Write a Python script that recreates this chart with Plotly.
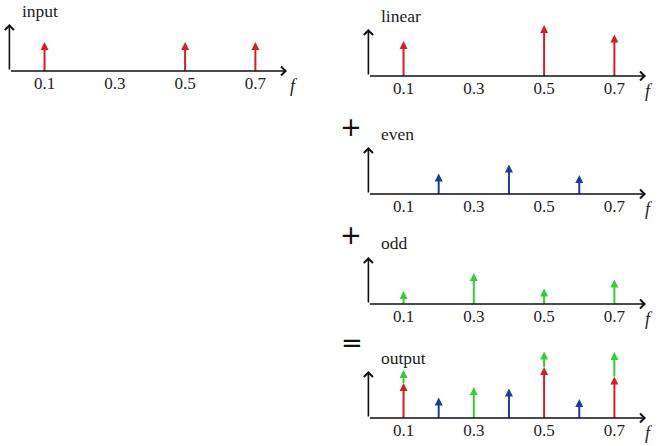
import plotly.graph_objects as go

# ---- data (frequency, amplitude) ----
tick_vals = [0.1, 0.3, 0.5, 0.7]
tick_text = ["0.1", "0.3", "0.5", "0.7"]

input_f = [0.1, 0.5, 0.7]
input_a = [2.9, 2.9, 2.9]

linear_f = [0.1, 0.5, 0.7]
linear_a = [3.5, 5.1, 4.15]

even_f = [0.2, 0.4, 0.6]
even_a = [2.05, 2.95, 1.9]

odd_f = [0.1, 0.3, 0.5, 0.7]
odd_a = [1.3, 3.1, 1.55, 2.45]

RED = "#d41f26"
BLUE = "#1a3c9c"
GREEN = "#36cc36"

SERIF = "Liberation Serif, Times New Roman, Times, serif"

W, H = 661, 446
PXU = 10.0        # pixels per amplitude unit
YMAX = 7.0        # y range of each panel
XMAX = 0.8
AXIS_TOP = 4.7
AXIS_END = 0.79

# panel: (label, left px of origin, baseline px, f-label x offset)
panels = [
    ("input", 9.4, 71, 285),
    ("linear", 368.4, 76, 281),
    ("even", 368.4, 194, 281),
    ("odd", 368.4, 304, 281),
    ("output", 368.4, 418, 281),
]
XSCALE = 351.4  # px per unit frequency

fig = go.Figure()
layout = {}

def stems(f, a, base, color, idx):
    xs, ys = [], []
    for fi, ai, bi in zip(f, a, base):
        xs += [fi, fi, None]
        ys += [bi, ai + bi - 0.35, None]
    fig.add_trace(go.Scatter(x=xs, y=ys, mode="lines",
                             line=dict(color=color, width=2),
                             xaxis=f"x{idx}", yaxis=f"y{idx}",
                             hoverinfo="skip", showlegend=False))
    fig.add_trace(go.Scatter(x=list(f), y=[ai + bi for ai, bi in zip(a, base)],
                             mode="markers",
                             marker=dict(symbol="arrow-up", size=8, color=color,
                                         line=dict(width=0)),
                             xaxis=f"x{idx}", yaxis=f"y{idx}",
                             hoverinfo="skip", showlegend=False))

annotations = []
for i, (name, x0, base_px, foff) in enumerate(panels, start=1):
    xd = [x0 / W, (x0 + XMAX * XSCALE) / W]
    yd = [1 - base_px / H, 1 - (base_px - YMAX * PXU) / H]
    sfx = "" if i == 1 else str(i)
    layout[f"xaxis{sfx}"] = dict(domain=xd, range=[0, XMAX], anchor=f"y{i}",
                                 showgrid=False, zeroline=False, showline=False,
                                 tickvals=tick_vals, ticktext=tick_text, ticks="",
                                 automargin=False,
                                 tickfont=dict(family=SERIF, size=17, color="#222"),
                                 fixedrange=True)
    layout[f"yaxis{sfx}"] = dict(domain=yd, range=[0, YMAX], anchor=f"x{i}",
                                 showgrid=False, zeroline=False, showline=False,
                                 automargin=False,
                                 showticklabels=False, fixedrange=True)
    xr, yr = f"x{i}", f"y{i}"
    # axes arrows
    annotations.append(dict(x=AXIS_END, y=0, ax=0, ay=0, xref=xr, yref=yr, axref=xr, ayref=yr,
                            text="", showarrow=True, arrowhead=4, arrowsize=1.1,
                            arrowwidth=1.6, arrowcolor="#111"))
    annotations.append(dict(x=0, y=AXIS_TOP, ax=0, ay=0, xref=xr, yref=yr, axref=xr, ayref=yr,
                            text="", showarrow=True, arrowhead=4, arrowsize=1.1,
                            arrowwidth=1.6, arrowcolor="#111"))
    # f label (paper coords: lies outside the axis range)
    annotations.append(dict(x=(x0 + foff) / W, y=1 - (base_px + 15) / H,
                            xref="paper", yref="paper", text="<i>f</i>",
                            xanchor="center", yanchor="middle", showarrow=False,
                            font=dict(family=SERIF, size=18, color="#222")))
    # panel name
    annotations.append(dict(x=0.03, y=6.05, xref=xr, yref=yr, text=name,
                            xanchor="left", yanchor="middle", showarrow=False,
                            font=dict(family=SERIF, size=17.5, color="#222")))

stems(input_f, input_a, [0] * len(input_f), RED, 1)
stems(linear_f, linear_a, [0] * len(linear_f), RED, 2)
stems(even_f, even_a, [0] * len(even_f), BLUE, 3)
stems(odd_f, odd_a, [0] * len(odd_f), GREEN, 4)

# output = linear + even + odd (odd stacked on linear at common frequencies)
lin_map = dict(zip(linear_f, linear_a))
odd_base = [lin_map.get(f, 0) for f in odd_f]
stems(linear_f, linear_a, [0] * len(linear_f), RED, 5)
stems(odd_f, odd_a, odd_base, GREEN, 5)
stems(even_f, even_a, [0] * len(even_f), BLUE, 5)

# operators between right panels
for sym, px, py in [("+", 351, 127), ("+", 351, 235), ("=", 352, 343)]:
    annotations.append(dict(x=px / W, y=1 - py / H, xref="paper", yref="paper", text=sym,
                            xanchor="center", yanchor="middle", showarrow=False,
                            font=dict(family="DejaVu Sans", size=26, color="#111")))

fig.update_layout(width=W, height=H, margin=dict(l=0, r=0, t=0, b=0, autoexpand=False),
                  paper_bgcolor="white", plot_bgcolor="white",
                  annotations=annotations, **layout)
fig.write_html("out.html", config={"displayModeBar": False},
               post_script="document.body.style.margin='0';document.body.style.overflow='hidden';")
